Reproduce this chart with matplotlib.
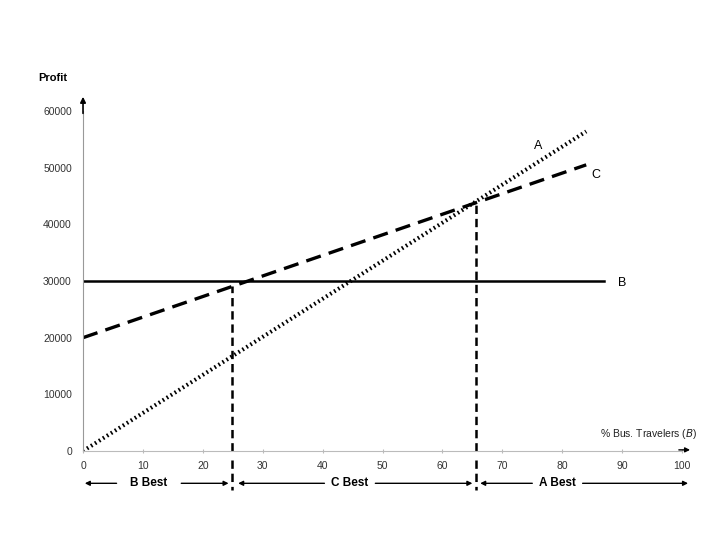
import matplotlib
matplotlib.use("Agg")
import matplotlib.pyplot as plt

plt.rcParams["font.family"] = ["Liberation Sans", "DejaVu Sans"]
plt.rcParams["lines.scale_dashes"] = False

# line end points (% bus travelers, profit)
a_x = [0, 84]
a_y = [0, 56400]
c_x = [0, 84]
c_y = [20000, 50500]
b_x = [0, 87]
b_y = [30000, 30000]

# switch points and where the dashed drop lines stop
switch_x = [24.9, 65.6]
switch_y = [29200, 44100]

x_ticks = [0, 10, 20, 30, 40, 50, 60, 70, 80, 90, 100]
y_ticks = [0, 10000, 20000, 30000, 40000, 50000, 60000]

# best-region labels: (label, left tip, text start, text end, right tip, text centre)
regions = [
    ("B Best", 0.3, 5.6, 16.4, 24.3, 11.0),
    ("C Best", 25.9, 40.3, 48.8, 65.0, 44.5),
    ("A Best", 66.3, 75.0, 83.4, 101.0, 79.2),
]

fig = plt.figure(figsize=(7.2, 5.4), dpi=100)
ax = fig.add_axes([0.1153, 0.1648, 0.832, 0.6296])

ax.plot(a_x, a_y, color="black", lw=2.9, linestyle=(0, (1.2, 2.2)),
        dash_capstyle="butt")
ax.plot(c_x, c_y, color="black", lw=2.4, linestyle=(0, (11, 6)))
ax.plot(b_x, b_y, color="black", lw=1.8)

for sx, sy in zip(switch_x, switch_y):
    ax.plot([sx, sx], [0, sy], color="black", lw=1.8,
            linestyle=(0, (6, 3.5)))
    ax.plot([sx, sx], [-1500, -6800], color="black", lw=1.8,
            linestyle=(0, (6, 3.5)), clip_on=False)

ax.text(75.9, 53800, "A", fontsize=9, ha="center", va="center")
ax.text(85.6, 48700, "C", fontsize=9, ha="center", va="center")
ax.text(90.0, 29650, "B", fontsize=9, ha="center", va="center")

ax.set_xlim(0, 100)
ax.set_ylim(0, 60000)
ax.set_xticks(x_ticks)
ax.set_yticks(y_ticks)
ax.tick_params(axis="both", labelsize=7.5, colors="#333333")
ax.tick_params(axis="x", length=3, color="#bbbbbb", direction="inout", pad=6)
ax.tick_params(axis="y", length=0, pad=8)

for side in ["top", "right"]:
    ax.spines[side].set_visible(False)
ax.spines["bottom"].set_color("#bbbbbb")
ax.spines["left"].set_color("#999999")

# axis arrows
ax.annotate("", xy=(0, 1.05), xytext=(0, 0.985), xycoords="axes fraction",
            arrowprops=dict(arrowstyle="-|>", color="black", lw=1.2,
                            mutation_scale=8))
ax.annotate("", xy=(101.8, 200), xytext=(99, 200), xycoords="data",
            arrowprops=dict(arrowstyle="-|>", color="black", lw=1,
                            mutation_scale=7), annotation_clip=False)

fig.text(0.968, 0.196, "% Bus. Travelers ($\\bf{\\it{B}}$)", fontsize=7.5,
         ha="right", va="center", color="#222222")

fig.text(0.053, 0.855, "Profit", fontsize=8, fontweight="bold",
         ha="left", va="center")

row_y = -5700
for label, lt, ts, te, rt, tc in regions:
    ax.text(tc, row_y, label, fontsize=8.5, fontweight="bold",
            ha="center", va="center", clip_on=False)
    ax.annotate("", xy=(lt, row_y), xytext=(ts, row_y),
                arrowprops=dict(arrowstyle="-|>", color="black", lw=1,
                                mutation_scale=7, shrinkA=0, shrinkB=0),
                annotation_clip=False)
    ax.annotate("", xy=(rt, row_y), xytext=(te, row_y),
                arrowprops=dict(arrowstyle="-|>", color="black", lw=1,
                                mutation_scale=7, shrinkA=0, shrinkB=0),
                annotation_clip=False)

fig.savefig("out.png", dpi=100)
